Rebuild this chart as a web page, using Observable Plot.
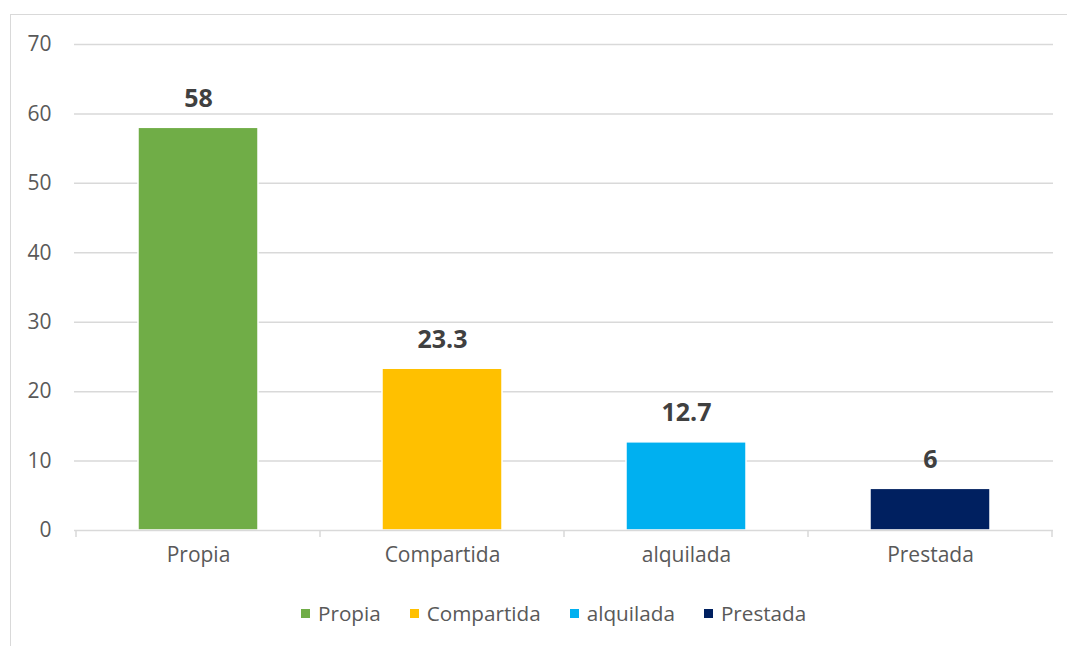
<!DOCTYPE html>
<html>
<head>
<meta charset="utf-8">
<script src="https://cdn.jsdelivr.net/npm/d3@7"></script>
<script src="https://cdn.jsdelivr.net/npm/@observablehq/plot@0.6"></script>
<style>
  html, body { margin: 0; padding: 0; background: #fff; }
  body { width: 1067px; height: 646px; position: relative; overflow: hidden; font-family: "Open Sans", sans-serif; }
  #frame { position: absolute; left: 10px; top: 14px; width: 1070px; height: 640px; border: 1.5px solid #d9d9d9; box-sizing: border-box; }
  #chart { position: absolute; left: 0; top: 0; }
  #legend { position: absolute; left: 301px; top: 599px; display: flex; align-items: center; font-size: 20.7px; color: #595959; }
  .item { display: flex; align-items: center; margin-right: 29px; }
  .sw { width: 9px; height: 9px; margin-right: 8px; }
</style>
</head>
<body>
<div id="frame"></div>
<div id="chart"></div>
<div id="legend"></div>
<script>
const categories = ["Propia", "Compartida", "alquilada", "Prestada"];
const values = [58, 23.3, 12.7, 6];
const labels = ["58", "23.3", "12.7", "6"];
const colors = ["#70ad47", "#ffc000", "#00b0f0", "#002060"];
const yTicks = [0, 10, 20, 30, 40, 50, 60, 70];

const data = categories.map((c, i) => ({cat: c, value: values[i], label: labels[i]}));

const plot = Plot.plot({
  width: 1067,
  height: 590,
  marginTop: 44,
  marginBottom: 60,
  marginLeft: 74,
  marginRight: 14,
  style: {fontFamily: "Open Sans, sans-serif", fontSize: "21px", color: "#595959", background: "transparent"},
  x: {domain: categories, paddingInner: 0.51, paddingOuter: 0.255, label: null},
  y: {domain: [0, 70], label: null},
  color: {domain: categories, range: colors},
  marks: [
    Plot.gridY(yTicks.filter(d => d > 0), {stroke: "#d9d9d9", strokeOpacity: 1, strokeWidth: 1.5}),
    Plot.barY(data, {x: "cat", y: "value", fill: "cat", stroke: "white", strokeWidth: 1.5}),
    Plot.ruleY([0], {stroke: "#d9d9d9", strokeWidth: 1.5}),
    Plot.axisY({ticks: yTicks, tickSize: 0, tickPadding: 23, fontSize: 21, fill: "#595959"}),
    Plot.axisX({tickSize: 0, tickPadding: 17, fontSize: 21, fill: "#595959"}),
    Plot.text(data, {x: "cat", y: "value", text: "label", dy: -29, fontSize: 25, fontWeight: "bold", fill: "#404040"})
  ]
});

// tick marks at band boundaries
const xs = plot.scale("x");
const ys = plot.scale("y");
const y0 = ys.apply(0);
const step = xs.step;
const start = xs.apply(categories[0]) - (step - xs.bandwidth) / 2;
const g = d3.select(plot).append("g").attr("stroke", "#d9d9d9").attr("stroke-width", 1.5);
for (let i = 0; i <= categories.length; i++) {
  const x = start + i * step;
  g.append("line").attr("x1", x).attr("x2", x).attr("y1", y0).attr("y2", y0 + 7);
}

document.getElementById("chart").appendChild(plot);

const legend = document.getElementById("legend");
categories.forEach((c, i) => {
  const it = document.createElement("div");
  it.className = "item";
  it.innerHTML = `<span class="sw" style="background:${colors[i]}"></span><span>${c}</span>`;
  legend.appendChild(it);
});
</script>
</body>
</html>
